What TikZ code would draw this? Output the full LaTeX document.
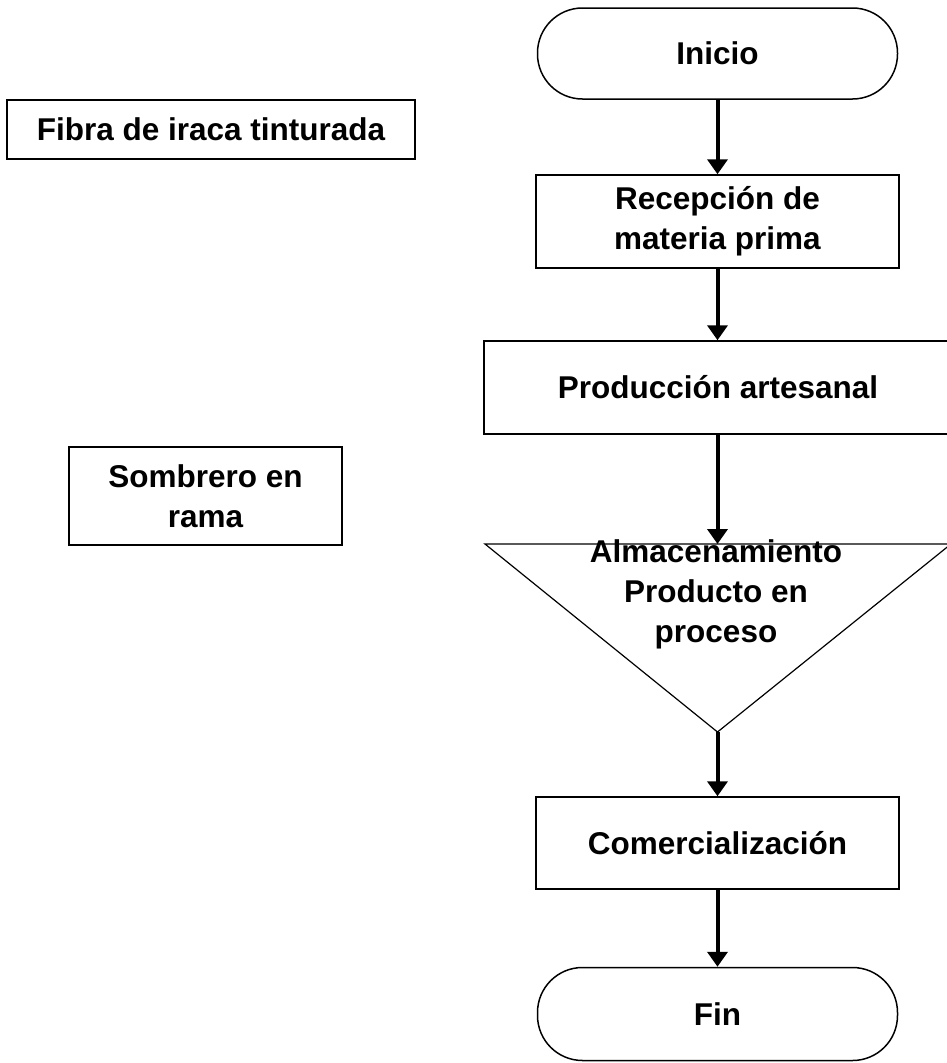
\documentclass[tikz,border=0pt]{standalone}
\usepackage{fontspec}
\setmainfont{Liberation Sans}
\usetikzlibrary{arrows.meta}
\begin{document}
\begin{tikzpicture}[x=1pt,y=-1pt,
  every node/.style={font=\fontsize{31.5}{40}\selectfont\bfseries, align=center, inner sep=0pt},
  box/.style={draw, line width=1.5pt, rectangle},
  term/.style={draw, line width=1.5pt, rectangle, rounded corners=45pt},
  arr/.style={line width=4pt, -{Triangle[width=20pt,length=15pt]}}]
\useasboundingbox (0,0) rectangle (947,1063);
\fill[white] (0,0) rectangle (947,1063);
% left side boxes
\node[box, minimum width=408pt, minimum height=59pt] (fibra) at (211,129.5) {Fibra de iraca tinturada};
\node[box, minimum width=273pt, minimum height=98pt] (sombrero) at (205.5,496) {Sombrero en\\rama};
% main column
\node[term, minimum width=360pt, minimum height=91pt] (inicio) at (717.5,53.5) {Inicio};
\node[box, minimum width=363pt, minimum height=93pt] (recep) at (717.5,221.5) {Recepción de\\materia prima};
\node[box, minimum width=468pt, minimum height=93pt] (prod) at (718,387.5) {Producción artesanal};
\coordinate (tritop) at (717.5,544);
\coordinate (triapex) at (717.5,732);
\draw[line width=1.2pt, line join=miter] (485,544) -- (951,544) -- (triapex) -- cycle;
\node (alm) at (716,594) {Almacenamiento\\Producto en\\proceso};
\node[box, minimum width=363pt, minimum height=92pt] (comer) at (717.5,843) {Comercialización};
\node[term, minimum width=360pt, minimum height=93pt] (fin) at (717.5,1014) {Fin};
% connectors
\draw[arr] (inicio.south) -- (recep.north);
\draw[arr] (recep.south) -- (recep.south |- prod.north);
\draw[arr] (recep.south |- prod.south) -- (tritop);
\draw[arr] (triapex) -- (comer.north);
\draw[arr] (comer.south) -- (fin.north);
\end{tikzpicture}
\end{document}
